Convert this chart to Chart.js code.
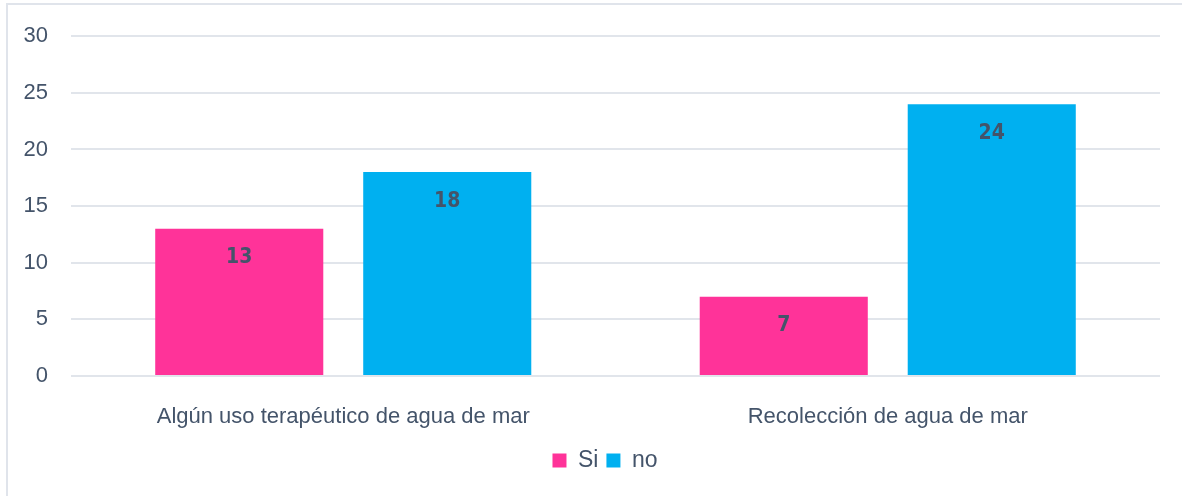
<!DOCTYPE html>
<html lang="es">
<head>
<meta charset="UTF-8">
<title>Uso de agua de mar</title>
<script src="https://cdn.jsdelivr.net/npm/chart.js"></script>
<style>
  html, body { margin: 0; padding: 0; background: #ffffff; }
  #wrap { width: 1182px; height: 496px; }
</style>
</head>
<body>
<div id="wrap"><canvas id="chart" width="1182" height="496"></canvas></div>
<script>
// data
const categories = ['Algún uso terapéutico de agua de mar', 'Recolección de agua de mar'];
const siValues = [13, 7];
const noValues = [18, 24];
const yTicks = [0, 5, 10, 15, 20, 25, 30];

const textColor = '#44546A';
const gridColor = '#E1E5EB';
const fontFamily = '"Liberation Sans", Arial, sans-serif';

// outer frame round the picture
const framePlugin = {
  id: 'frame',
  beforeDraw(chart) {
    const c = chart.ctx;
    c.save();
    c.strokeStyle = '#E0E4EB';
    c.lineWidth = 2;
    c.strokeRect(7, 4, chart.width + 4, chart.height + 4);
    c.restore();
  }
};

// legend sits a bit right of the canvas centre in the original
const legendShift = {
  id: 'legendShift',
  afterLayout(chart) {
    if (chart.legend) {
      chart.legend.left += 20;
      chart.legend.right += 20;
    }
  }
};

// value labels inside each bar, near its top
const valueLabels = {
  id: 'valueLabels',
  afterDatasetsDraw(chart) {
    const c = chart.ctx;
    c.save();
    c.font = 'bold 21px "DejaVu Sans Condensed", "DejaVu Sans", sans-serif';
    c.fillStyle = textColor;
    c.textAlign = 'center';
    c.textBaseline = 'middle';
    chart.data.datasets.forEach((ds, i) => {
      chart.getDatasetMeta(i).data.forEach((bar, j) => {
        c.fillText(ds.data[j], bar.x, bar.y + 29);
      });
    });
    c.restore();
  }
};

new Chart(document.getElementById('chart'), {
  type: 'bar',
  data: {
    labels: categories,
    datasets: [
      { label: 'Si', data: siValues, backgroundColor: '#FF3399' },
      { label: 'no', data: noValues, backgroundColor: '#00B0F0' }
    ]
  },
  options: {
    responsive: false,
    animation: false,
    categoryPercentage: 0.764,
    barPercentage: 0.808,
    layout: { padding: { left: 10, right: 22, top: 33, bottom: 14 } },
    scales: {
      x: {
        grid: { display: false },
        border: { display: false },
        ticks: { color: textColor, font: { family: fontFamily, size: 22 }, padding: 20 },
        afterFit(axis) { axis.height = 65; }
      },
      y: {
        min: 0,
        max: 30,
        afterBuildTicks(axis) { axis.ticks = yTicks.map(v => ({ value: v })); },
        grid: { color: gridColor, lineWidth: 2, drawTicks: false },
        border: { display: false },
        ticks: { color: textColor, font: { family: fontFamily, size: 22 }, padding: 23 },
        afterFit(axis) { axis.width = 61; }
      }
    },
    plugins: {
      legend: {
        position: 'bottom',
        labels: {
          color: textColor,
          font: { family: fontFamily, size: 23 },
          boxWidth: 14,
          boxHeight: 14,
          padding: 8
        }
      },
      tooltip: { enabled: false }
    }
  },
  plugins: [framePlugin, legendShift, valueLabels]
});
</script>
</body>
</html>
